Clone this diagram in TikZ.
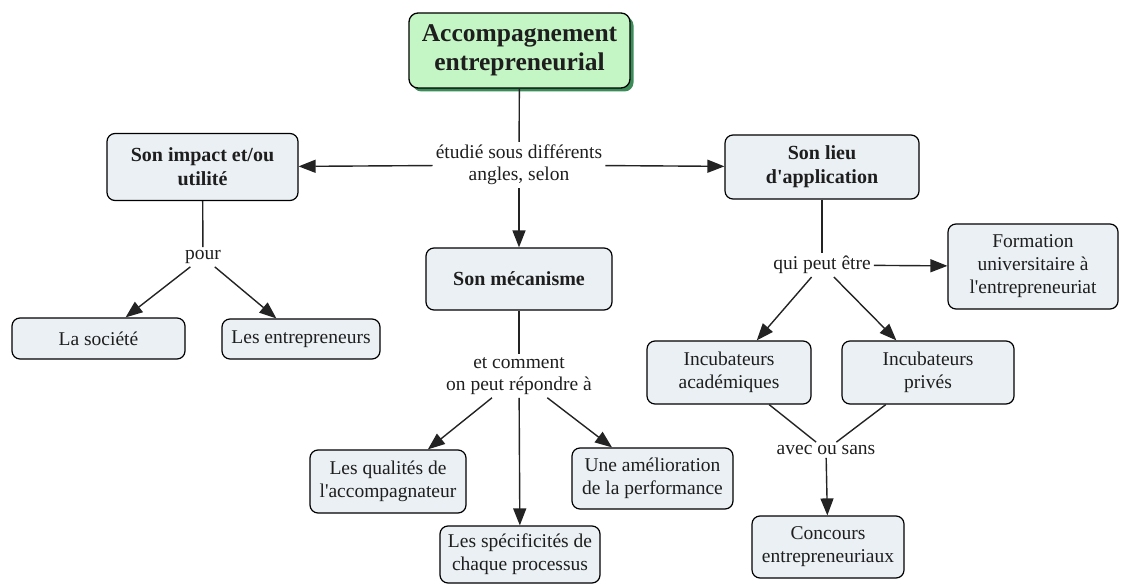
\documentclass[tikz,border=0pt]{standalone}
\usepackage{fontspec}
\setmainfont{Liberation Serif}[Ligatures=TeXOff]
\usetikzlibrary{arrows.meta,shadows}
\definecolor{boxfill}{RGB}{234,240,243}
\definecolor{titlefill}{RGB}{196,245,196}
\definecolor{titleshadow}{RGB}{60,140,90}
\definecolor{linecol}{RGB}{35,35,35}
\definecolor{txtcol}{RGB}{30,30,30}
\tikzset{
  conceptbox/.style={draw=black, line width=1.2pt, rounded corners=8pt, fill=boxfill,
    align=center, inner sep=2pt, text=txtcol, font=\fontsize{19.5}{23}\selectfont},
  boldbox/.style={conceptbox, font=\fontsize{20}{24}\selectfont\bfseries},
  titlebox/.style={draw=black, line width=1.3pt, rounded corners=9pt, fill=titlefill,
    align=center, text=txtcol, font=\fontsize{25.5}{29}\selectfont\bfseries,
    drop shadow={shadow xshift=3.5pt, shadow yshift=-3.5pt, fill=titleshadow, opacity=1}},
  linklabel/.style={align=center, text=txtcol, inner sep=3pt, font=\fontsize{19.5}{22}\selectfont},
  conn/.style={draw=linecol, line width=1.4pt},
  arr/.style={conn, -{Triangle[length=17pt,width=13pt]}}
}
\begin{document}
\begin{tikzpicture}[x=1pt,y=-1pt]
\useasboundingbox (0,0) rectangle (1131,585);
% concepts
\node[titlebox, minimum width=221pt, minimum height=75pt] (title) at (519.5,50.5) {Accompagnement\\entrepreneurial};
\node[boldbox, minimum width=191pt, minimum height=67pt] (impact) at (202.5,167) {Son impact et/ou\\utilité};
\node[boldbox, minimum width=194pt, minimum height=64pt] (lieu) at (822,167) {Son lieu\\d'application};
\node[boldbox, minimum width=186pt, minimum height=62pt] (meca) at (519,279) {Son mécanisme};
\node[conceptbox, minimum width=170pt, minimum height=85pt] (formation) at (1033,266.5) {Formation\\universitaire à\\l'entrepreneuriat};
\node[conceptbox, minimum width=173pt, minimum height=41pt] (societe) at (98.5,338.5) {La société};
\node[conceptbox, minimum width=158pt, minimum height=40pt] (entrep) at (301,339) {Les entrepreneurs};
\node[conceptbox, minimum width=164pt, minimum height=63pt] (acad) at (729,372.5) {Incubateurs\\académiques};
\node[conceptbox, minimum width=172pt, minimum height=63pt] (prives) at (928,372.5) {Incubateurs\\privés};
\node[conceptbox, minimum width=156pt, minimum height=63pt] (qualites) at (388,481.5) {Les qualités de\\l'accompagnateur};
\node[conceptbox, minimum width=161pt, minimum height=61pt] (amelio) at (652.5,478.5) {Une amélioration\\de la performance};
\node[conceptbox, minimum width=160pt, minimum height=57pt] (specif) at (520,554.5) {Les spécificités de\\chaque processus};
\node[conceptbox, minimum width=152pt, minimum height=62pt] (concours) at (828,547) {Concours\\entrepreneuriaux};
% linking phrases
\node[linklabel] (l1) at (519,165) {étudié sous différents\\angles, selon};
\node[linklabel] (l2) at (203,257) {pour};
\node[linklabel] (l3) at (519,376) {et comment\\on peut répondre à};
\node[linklabel] (l4) at (822,265) {qui peut être};
\node[linklabel] (l5) at (826,450) {avec ou sans};
% connectors
\draw[conn] (title) -- (l1);
\draw[arr] (l1) -- (impact);
\draw[arr] (l1) -- (lieu);
\draw[arr] (l1) -- (meca);
\draw[conn] (impact) -- (l2);
\draw[arr] (l2) -- (societe);
\draw[arr] (l2) -- (entrep);
\draw[conn] (meca) -- (l3);
\draw[arr] (l3) -- (qualites);
\draw[arr] (l3) -- (specif);
\draw[arr] (l3) -- (amelio);
\draw[conn] (lieu) -- (l4);
\draw[arr] (l4) -- (formation);
\draw[arr] (l4) -- (acad);
\draw[arr] (l4) -- (prives);
\draw[conn] (acad) -- (l5);
\draw[conn] (prives) -- (l5);
\draw[arr] (l5) -- (concours);
\end{tikzpicture}
\end{document}
